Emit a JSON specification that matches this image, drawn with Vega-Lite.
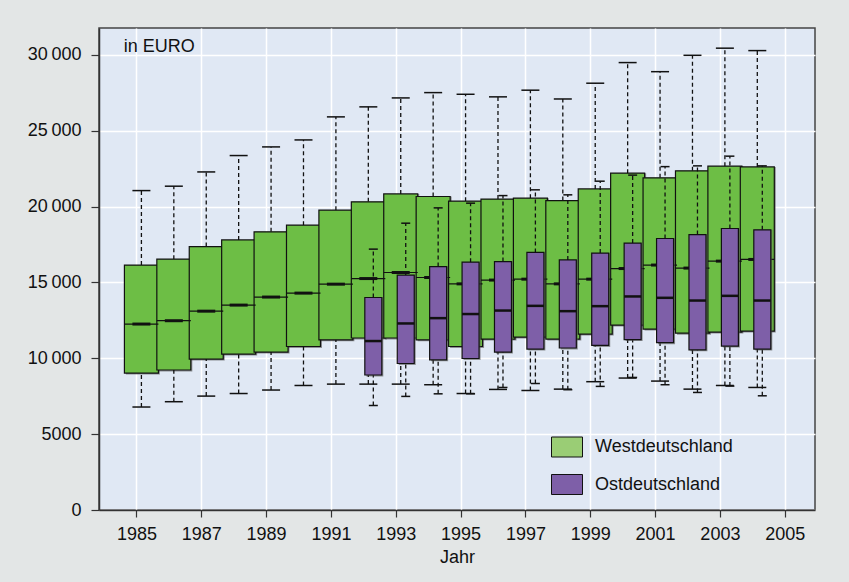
{
  "$schema": "https://vega.github.io/schema/vega-lite/v6.json",
  "width": 716,
  "height": 482,
  "autosize": {"type": "none"},
  "padding": {"left": 99, "top": 28, "right": 34, "bottom": 72},
  "background": "#E3E6E6",
  "config": {
    "font": "Liberation Sans",
    "view": {"fill": "#E0E8F4", "stroke": "#444444", "strokeWidth": 1.5},
    "axis": {"labelFont": "Liberation Sans", "titleFont": "Liberation Sans", "labelColor": "#111111", "titleColor": "#111111", "gridColor": "#FFFFFF", "gridWidth": 1.5, "domainColor": "#333333", "domainWidth": 1.5, "tickColor": "#333333", "tickWidth": 1.2}
  },
  "datasets": {
    "boxes": [
      {"Jahr": 1985, "Region": "Westdeutschland", "min": 6790, "q1": 9030, "median": 12260, "q3": 16150, "max": 21060},
      {"Jahr": 1986, "Region": "Westdeutschland", "min": 7140, "q1": 9230, "median": 12480, "q3": 16540, "max": 21350},
      {"Jahr": 1987, "Region": "Westdeutschland", "min": 7510, "q1": 9950, "median": 13110, "q3": 17370, "max": 22290},
      {"Jahr": 1988, "Region": "Westdeutschland", "min": 7680, "q1": 10280, "median": 13510, "q3": 17810, "max": 23370},
      {"Jahr": 1989, "Region": "Westdeutschland", "min": 7910, "q1": 10410, "median": 14040, "q3": 18340, "max": 23940},
      {"Jahr": 1990, "Region": "Westdeutschland", "min": 8210, "q1": 10780, "median": 14300, "q3": 18780, "max": 24400},
      {"Jahr": 1991, "Region": "Westdeutschland", "min": 8300, "q1": 11220, "median": 14890, "q3": 19770, "max": 25920},
      {"Jahr": 1992, "Region": "Westdeutschland", "min": 8300, "q1": 11340, "median": 15260, "q3": 20320, "max": 26580},
      {"Jahr": 1993, "Region": "Westdeutschland", "min": 8300, "q1": 11340, "median": 15660, "q3": 20840, "max": 27170},
      {"Jahr": 1994, "Region": "Westdeutschland", "min": 8260, "q1": 11220, "median": 15330, "q3": 20670, "max": 27520},
      {"Jahr": 1995, "Region": "Westdeutschland", "min": 7680, "q1": 10780, "median": 14910, "q3": 20360, "max": 27410},
      {"Jahr": 1996, "Region": "Westdeutschland", "min": 7950, "q1": 11270, "median": 15160, "q3": 20500, "max": 27240},
      {"Jahr": 1997, "Region": "Westdeutschland", "min": 7880, "q1": 11400, "median": 15220, "q3": 20560, "max": 27680},
      {"Jahr": 1998, "Region": "Westdeutschland", "min": 7970, "q1": 11270, "median": 14910, "q3": 20400, "max": 27100},
      {"Jahr": 1999, "Region": "Westdeutschland", "min": 8460, "q1": 11600, "median": 15220, "q3": 21170, "max": 28140},
      {"Jahr": 2000, "Region": "Westdeutschland", "min": 8700, "q1": 12190, "median": 15920, "q3": 22210, "max": 29500},
      {"Jahr": 2001, "Region": "Westdeutschland", "min": 8500, "q1": 11930, "median": 16150, "q3": 21900, "max": 28900},
      {"Jahr": 2002, "Region": "Westdeutschland", "min": 7970, "q1": 11660, "median": 15950, "q3": 22360, "max": 29980},
      {"Jahr": 2003, "Region": "Westdeutschland", "min": 8210, "q1": 11730, "median": 16410, "q3": 22670, "max": 30450},
      {"Jahr": 2004, "Region": "Westdeutschland", "min": 8080, "q1": 11800, "median": 16520, "q3": 22620, "max": 30290},
      {"Jahr": 1992, "Region": "Ostdeutschland", "min": 6890, "q1": 8900, "median": 11140, "q3": 14010, "max": 17200},
      {"Jahr": 1993, "Region": "Ostdeutschland", "min": 7490, "q1": 9660, "median": 12300, "q3": 15490, "max": 18910},
      {"Jahr": 1994, "Region": "Ostdeutschland", "min": 7660, "q1": 9900, "median": 12650, "q3": 16050, "max": 19920},
      {"Jahr": 1995, "Region": "Ostdeutschland", "min": 7660, "q1": 9990, "median": 12920, "q3": 16340, "max": 20230},
      {"Jahr": 1996, "Region": "Ostdeutschland", "min": 8080, "q1": 10410, "median": 13150, "q3": 16380, "max": 20730},
      {"Jahr": 1997, "Region": "Ostdeutschland", "min": 8340, "q1": 10610, "median": 13460, "q3": 16980, "max": 21110},
      {"Jahr": 1998, "Region": "Ostdeutschland", "min": 7930, "q1": 10680, "median": 13110, "q3": 16490, "max": 20780},
      {"Jahr": 1999, "Region": "Ostdeutschland", "min": 8150, "q1": 10850, "median": 13440, "q3": 16940, "max": 21680},
      {"Jahr": 2000, "Region": "Ostdeutschland", "min": 8740, "q1": 11240, "median": 14080, "q3": 17600, "max": 22080},
      {"Jahr": 2001, "Region": "Ostdeutschland", "min": 8260, "q1": 11030, "median": 13990, "q3": 17900, "max": 22640},
      {"Jahr": 2002, "Region": "Ostdeutschland", "min": 7750, "q1": 10560, "median": 13810, "q3": 18160, "max": 22690},
      {"Jahr": 2003, "Region": "Ostdeutschland", "min": 8170, "q1": 10810, "median": 14120, "q3": 18560, "max": 23330},
      {"Jahr": 2004, "Region": "Ostdeutschland", "min": 7530, "q1": 10610, "median": 13810, "q3": 18470, "max": 22690}
    ],
    "note": [{"label": "in EURO", "Jahr": 1984.61, "wert": 30530}]
  },
  "layer": [
    {
      "data": {"name": "boxes"},
      "transform": [{"filter": "datum.Region == 'Westdeutschland'"}],
      "encoding": {
        "x": {"field": "Jahr", "type": "quantitative", "title": "Jahr",
          "scale": {"domain": [1984, 2005.78], "nice": false, "zero": false},
          "axis": {"values": [1985,1986,1987,1988,1989,1990,1991,1992,1993,1994,1995,1996,1997,1998,1999,2000,2001,2002,2003,2004,2005],
            "format": "d", "labelExpr": "datum.value % 2 == 1 ? datum.label : ''",
            "labelFontSize": 18, "titleFontSize": 18, "titleFontWeight": "normal",
            "tickSize": 7, "labelPadding": 8, "titlePadding": 5, "labelFlush": false, "labelOverlap": false}},
        "y": {"type": "quantitative",
          "scale": {"domain": [0, 31780], "nice": false, "zero": true},
          "axis": {"title": null, "values": [0, 5000, 10000, 15000, 20000, 25000, 30000],
            "labelExpr": "datum.value >= 10000 ? replace(format(datum.value, ','), ',', '\u2009') : format(datum.value, 'd')",
            "labelFontSize": 18, "tickSize": 8, "labelPadding": 10}}
      },
      "layer": [
        {"mark": {"type": "bar", "orient": "vertical", "size": 34, "xOffset": 6.5, "yOffset": 1.5, "color": "#555555", "opacity": 0.6},
         "encoding": {"y": {"field": "q1", "type": "quantitative"}, "y2": {"field": "q3"}}},
        {"mark": {"type": "rule", "xOffset": 5, "strokeDash": [4, 3], "strokeWidth": 1.3, "color": "#111111"},
         "encoding": {"y": {"field": "q3", "type": "quantitative"}, "y2": {"field": "max"}}},
        {"mark": {"type": "rule", "xOffset": 5, "strokeDash": [4, 3], "strokeWidth": 1.3, "color": "#111111"},
         "encoding": {"y": {"field": "min", "type": "quantitative"}, "y2": {"field": "q1"}}},
        {"mark": {"type": "tick", "orient": "horizontal", "xOffset": 5, "size": 18, "thickness": 1.5, "color": "#111111", "opacity": 1},
         "encoding": {"y": {"field": "max", "type": "quantitative"}}},
        {"mark": {"type": "tick", "orient": "horizontal", "xOffset": 5, "size": 18, "thickness": 1.5, "color": "#111111", "opacity": 1},
         "encoding": {"y": {"field": "min", "type": "quantitative"}}},
        {"mark": {"type": "bar", "orient": "vertical", "size": 34, "xOffset": 5, "fill": "#6DBE45", "stroke": "#111111", "strokeWidth": 1.2, "opacity": 1},
         "encoding": {"y": {"field": "q1", "type": "quantitative"}, "y2": {"field": "q3"}}},
        {"mark": {"type": "tick", "orient": "horizontal", "xOffset": 5, "size": 34, "thickness": 1.2, "color": "#111111", "opacity": 1},
         "encoding": {"y": {"field": "median", "type": "quantitative"}}},
        {"mark": {"type": "tick", "orient": "horizontal", "xOffset": 5, "size": 18, "thickness": 3, "color": "#111111", "opacity": 1},
         "encoding": {"y": {"field": "median", "type": "quantitative"}}}
      ]
    },
    {
      "data": {"name": "boxes"},
      "transform": [{"filter": "datum.Region == 'Ostdeutschland'"}],
      "encoding": {"x": {"field": "Jahr", "type": "quantitative"}},
      "layer": [
        {"mark": {"type": "rule", "xOffset": 10, "strokeDash": [4, 3], "strokeWidth": 1.3, "color": "#111111"},
         "encoding": {"y": {"field": "q3", "type": "quantitative"}, "y2": {"field": "max"}}},
        {"mark": {"type": "rule", "xOffset": 10, "strokeDash": [4, 3], "strokeWidth": 1.3, "color": "#111111"},
         "encoding": {"y": {"field": "min", "type": "quantitative"}, "y2": {"field": "q1"}}},
        {"mark": {"type": "tick", "orient": "horizontal", "xOffset": 10, "size": 9, "thickness": 1.5, "color": "#111111", "opacity": 1},
         "encoding": {"y": {"field": "max", "type": "quantitative"}}},
        {"mark": {"type": "tick", "orient": "horizontal", "xOffset": 10, "size": 9, "thickness": 1.5, "color": "#111111", "opacity": 1},
         "encoding": {"y": {"field": "min", "type": "quantitative"}}},
        {"mark": {"type": "bar", "orient": "vertical", "size": 17, "xOffset": 11.5, "yOffset": 1.5, "color": "#555555", "opacity": 0.6},
         "encoding": {"y": {"field": "q1", "type": "quantitative"}, "y2": {"field": "q3"}}},
        {"mark": {"type": "bar", "orient": "vertical", "size": 17, "xOffset": 10, "fill": "#7E5FA8", "stroke": "#111111", "strokeWidth": 1.2, "opacity": 1},
         "encoding": {"y": {"field": "q1", "type": "quantitative"}, "y2": {"field": "q3"}}},
        {"mark": {"type": "tick", "orient": "horizontal", "xOffset": 10, "size": 17, "thickness": 2.5, "color": "#111111", "opacity": 1},
         "encoding": {"y": {"field": "median", "type": "quantitative"}}}
      ]
    },
    {
      "data": {"name": "boxes"},
      "transform": [{"filter": "datum.Jahr < 0"}],
      "mark": {"type": "bar", "orient": "vertical", "size": 17},
      "encoding": {
        "x": {"field": "Jahr", "type": "quantitative"},
        "y": {"field": "q1", "type": "quantitative"},
        "y2": {"field": "q3"},
        "color": {"field": "Region", "type": "nominal",
          "scale": {"domain": ["Westdeutschland", "Ostdeutschland"], "range": ["#9ACD75", "#7E5FA8"]},
          "legend": {"orient": "none", "legendX": 457.5, "legendY": 408.5, "title": null, "padding": 0,
            "symbolType": "M-1.55,-1H1.55V1H-1.55Z", "symbolSize": 400, "symbolStrokeColor": "#111111", "symbolStrokeWidth": 1,
            "symbolOpacity": 1, "labelFontSize": 18, "labelColor": "#111111", "labelOffset": 17.5, "rowPadding": 12.5, "labelLimit": 300}}
      }
    },
    {
      "data": {"name": "note"},
      "mark": {"type": "text", "align": "left", "baseline": "middle", "fontSize": 18, "color": "#111111", "font": "Liberation Sans"},
      "encoding": {"x": {"field": "Jahr", "type": "quantitative"}, "y": {"field": "wert", "type": "quantitative"}, "text": {"field": "label", "type": "nominal"}}
    }
  ]
}
